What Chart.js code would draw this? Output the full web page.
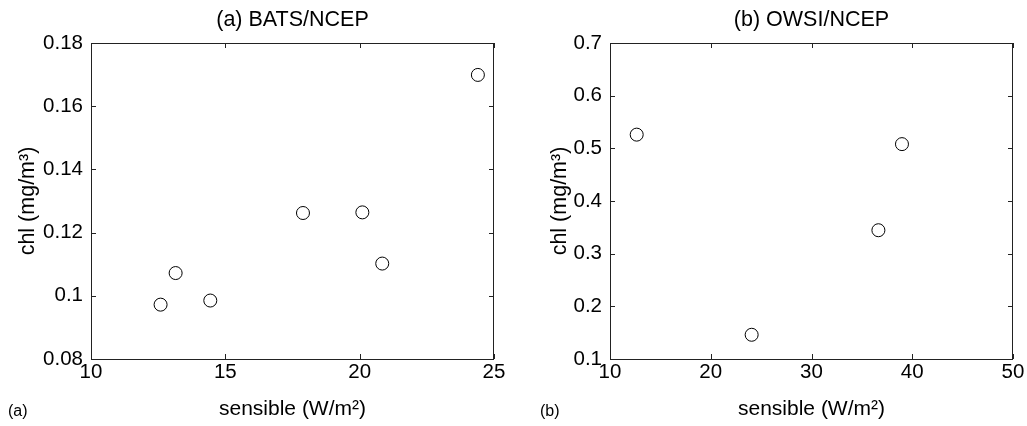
<!DOCTYPE html>
<html>
<head>
<meta charset="utf-8">
<script src="https://cdn.jsdelivr.net/npm/chart.js@4.4.1/dist/chart.umd.min.js"></script>
<style>
  html, body { margin: 0; padding: 0; background: #fff; }
  #wrap { position: relative; width: 1027px; height: 426px; }
  .panel { position: absolute; top: 0; height: 426px; }
  .tag { position: absolute; top: 402px; font: 16px "Liberation Sans", Arial, sans-serif; color: #000; }
</style>
</head>
<body>
<div id="wrap">
  <div class="panel" style="left:0;width:513px"><canvas id="chartA"></canvas></div>
  <div class="panel" style="left:513px;width:514px"><canvas id="chartB"></canvas></div>
  <div class="tag" style="left:8px">(a)</div>
  <div class="tag" style="left:540px">(b)</div>
</div>
<script>
  // (a) BATS/NCEP
  const batsSensible = [12.59, 13.15, 14.44, 17.89, 20.10, 20.84, 24.40];
  const batsChl = [0.0972, 0.1072, 0.0985, 0.1262, 0.1264, 0.1102, 0.1699];
  const batsXTicks = [10, 15, 20, 25];
  const batsYTicks = [0.08, 0.1, 0.12, 0.14, 0.16, 0.18];

  // (b) OWSI/NCEP
  const owsiSensible = [12.65, 24.06, 36.64, 38.98];
  const owsiChl = [0.526, 0.146, 0.3445, 0.508];
  const owsiXTicks = [10, 20, 30, 40, 50];
  const owsiYTicks = [0.1, 0.2, 0.3, 0.4, 0.5, 0.6, 0.7];

  const FONT = '"Liberation Sans", Arial, sans-serif';

  // matlab-style box with inward ticks + centered title over the plot area
  const boxPlugin = {
    id: 'matBox',
    afterDraw(chart, args, opts) {
      const { ctx, chartArea: a, scales } = chart;
      ctx.save();
      ctx.strokeStyle = '#222';
      ctx.lineWidth = 1;
      ctx.strokeRect(a.left + 0.5, a.top + 0.5, a.right - a.left - 1, a.bottom - a.top);
      const len = 5;
      ctx.beginPath();
      scales.x.ticks.forEach(t => {
        const px = Math.round(scales.x.getPixelForValue(t.value)) + 0.5;
        ctx.moveTo(px, a.bottom); ctx.lineTo(px, a.bottom - len);
        ctx.moveTo(px, a.top); ctx.lineTo(px, a.top + len);
      });
      scales.y.ticks.forEach(t => {
        const py = Math.round(scales.y.getPixelForValue(t.value)) + 0.5;
        ctx.moveTo(a.left, py); ctx.lineTo(a.left + len, py);
        ctx.moveTo(a.right, py); ctx.lineTo(a.right - len, py);
      });
      ctx.stroke();
      ctx.fillStyle = '#000';
      ctx.font = '21.5px ' + FONT;
      ctx.textAlign = 'center';
      ctx.textBaseline = 'middle';
      ctx.fillText(opts.text, (a.left + a.right) / 2, 20);
      ctx.restore();
    }
  };

  function mountScatter(id, cfg) {
    const el = document.getElementById(id);
    el.width = cfg.width;
    el.height = 426;
    return new Chart(el, {
      type: 'scatter',
      data: {
        datasets: [{
          data: cfg.xs.map((x, i) => ({ x, y: cfg.ys[i] })),
          pointStyle: 'circle',
          pointRadius: 6.5,
          pointBorderWidth: 1,
          pointBorderColor: '#000',
          pointBackgroundColor: 'rgba(0,0,0,0)'
        }]
      },
      options: {
        responsive: false,
        animation: false,
        layout: { padding: { left: 0, right: cfg.padRight, top: 43, bottom: 0 } },
        plugins: {
          legend: { display: false },
          tooltip: { enabled: false },
          matBox: { text: cfg.title }
        },
        scales: {
          x: {
            type: 'linear',
            min: cfg.xTicks[0],
            max: cfg.xTicks[cfg.xTicks.length - 1],
            afterBuildTicks: s => { s.ticks = cfg.xTicks.map(v => ({ value: v })); },
            afterFit: s => { s.height = 67; },
            grid: { display: false, drawTicks: false },
            border: { display: false },
            ticks: { color: '#000', padding: 1, font: { family: FONT, size: 20.5 }, maxRotation: 0 },
            title: {
              display: true, text: 'sensible (W/m²)', color: '#000',
              font: { family: FONT, size: 21 }, padding: { top: 0, bottom: 4 }
            }
          },
          y: {
            type: 'linear',
            min: cfg.yTicks[0],
            max: cfg.yTicks[cfg.yTicks.length - 1],
            afterBuildTicks: s => { s.ticks = cfg.yTicks.map(v => ({ value: v })); },
            afterFit: s => { s.width = cfg.yWidth; },
            grid: { display: false, drawTicks: false },
            border: { display: false },
            ticks: {
              color: '#000', padding: 8, font: { family: FONT, size: 20.5 },
              callback: v => String(+v.toFixed(2))
            },
            title: {
              display: true, text: 'chl (mg/m³)', color: '#000',
              font: { family: FONT, size: 21.5 }, padding: { top: cfg.yTitlePad, bottom: 0 }
            }
          }
        }
      },
      plugins: [boxPlugin]
    });
  }

  mountScatter('chartA', {
    width: 513, padRight: 19, yWidth: 91, yTitlePad: 15,
    title: '(a) BATS/NCEP',
    xs: batsSensible, ys: batsChl, xTicks: batsXTicks, yTicks: batsYTicks
  });
  mountScatter('chartB', {
    width: 514, padRight: 14, yWidth: 97, yTitlePad: 34,
    title: '(b) OWSI/NCEP',
    xs: owsiSensible, ys: owsiChl, xTicks: owsiXTicks, yTicks: owsiYTicks
  });
</script>
</body>
</html>
